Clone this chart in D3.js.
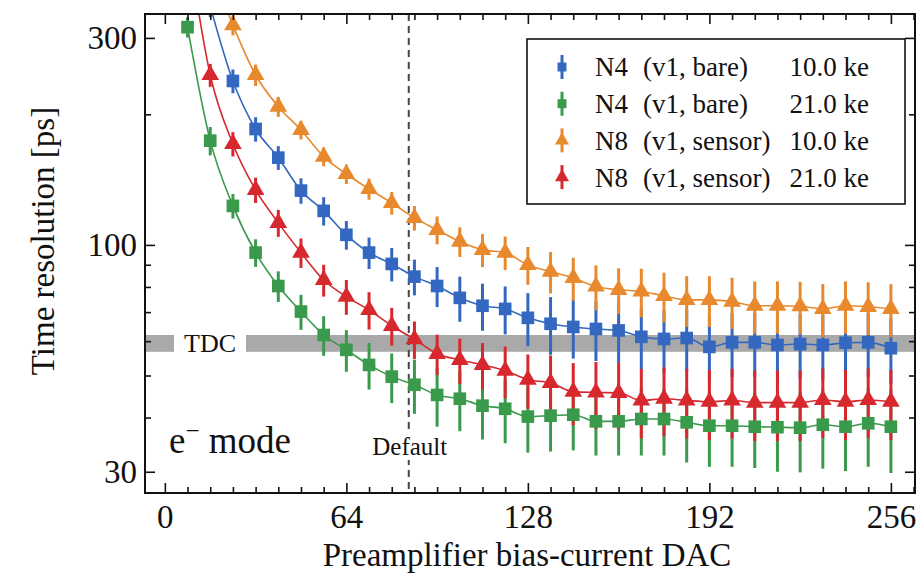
<!DOCTYPE html>
<html>
<head>
<meta charset="utf-8">
<script src="https://cdn.jsdelivr.net/npm/d3@7/dist/d3.min.js"></script>
<style>
  body { margin: 0; background: #fff; }
  text { font-family: "Liberation Serif", "DejaVu Serif", serif; fill: #111; }
</style>
</head>
<body>
<div id="chart"></div>
<script>
// bias-current DAC settings (one point every 8 DAC)
const dacValues = [8, 16, 24, 32, 40, 48, 56, 64, 72, 80, 88, 96, 104, 112, 120, 128,
  136, 144, 152, 160, 168, 176, 184, 192, 200, 208, 216, 224, 232, 240, 248, 256]

// time resolution [ps], null = not measured
const n4Bare10 = [null, 355, 238.7, 185.0, 158.9, 133.4, 119.8, 105.5, 96.0, 90.4, 84.5, 80.4, 75.5, 72.4, 71.2, 67.9,
  65.8, 64.7, 64.0, 63.5, 61.4, 60.7, 61.0, 58.2, 59.6, 59.6, 58.8, 59.1, 58.8, 59.5, 59.6, 57.8]
const n4Bare21 = [317.6, 173.9, 123.0, 96.0, 80.4, 70.2, 62.0, 57.3, 52.9, 49.7, 47.6, 45.1, 44.2, 42.6, 41.9, 40.2,
  40.4, 40.6, 39.2, 39.2, 39.7, 39.7, 39.0, 38.3, 38.3, 38.1, 38.0, 37.9, 38.5, 38.1, 38.8, 38.1]
const n8Sensor10 = [null, 440, 321, 246.4, 208.3, 184.1, 159.8, 145.7, 134.6, 124.9, 115.4, 108.3, 101.8, 97.4, 96.0, 89.9,
  86.8, 83.9, 80.2, 78.8, 78.1, 76.3, 74.7, 74.7, 74.0, 72.4, 72.4, 72.2, 71.2, 72.4, 72.0, 71.2]
const n8Sensor21 = [500, 246.4, 170.9, 133.9, 112.4, 96.0, 83.0, 76.0, 70.8, 65.1, 60.6, 56.1, 54.3, 52.9, 51.3, 48.9,
  48.1, 45.9, 45.7, 45.6, 43.8, 44.2, 43.8, 43.5, 43.8, 43.3, 43.3, 43.3, 43.9, 43.5, 43.9, 43.5]

// uncertainties [ps]
const n4Bare10Err = [0, 20, 15, 12, 10, 9, 9, 8, 8, 8, 8, 8.5, 9, 9, 9, 9.5,
  10, 10, 10, 10, 10, 10, 10, 10, 10, 10, 10, 10, 10, 10, 10, 10]
const n4Bare21Err = [17, 13, 8, 7, 6.5, 6.5, 6.5, 6.3, 6.5, 6.5, 6.8, 7, 7, 7, 7, 7,
  7, 7, 6.5, 6.5, 7, 7, 7.5, 7.5, 7.5, 7.5, 8, 8, 8, 8, 8, 8.3]
const n8Sensor10Err = [0, 25, 17, 14, 11, 9, 8, 7.5, 7.5, 7.5, 7.5, 8, 8, 8.5, 8.5, 9,
  9.5, 9.5, 9.5, 9.5, 10, 10, 10, 10, 10, 10, 10, 10, 10, 10, 10, 10]
const n8Sensor21Err = [30, 15, 11, 9, 8, 7.5, 7, 7, 7, 6.5, 6, 6, 6.5, 6.5, 7, 7,
  7.5, 7.5, 8, 8, 8, 8, 8, 8, 8, 8, 8, 8, 8, 8, 8, 8]

const seriesNames = ['N4', 'N4', 'N8', 'N8']
const seriesConfigs = ['(v1, bare)', '(v1, bare)', '(v1, sensor)', '(v1, sensor)']
const seriesCharges = ['10.0 ke', '21.0 ke', '10.0 ke', '21.0 ke']
const seriesColors = ['#3468c0', '#3a9a4c', '#e8892e', '#d7282e']
const seriesShapes = ['square', 'square', 'triangle', 'triangle']
const seriesValues = [n4Bare10, n4Bare21, n8Sensor10, n8Sensor21]
const seriesErrors = [n4Bare10Err, n4Bare21Err, n8Sensor10Err, n8Sensor21Err]

const xMajorTicks = [0, 64, 128, 192, 256]
const yMajorTicks = [30, 100, 300]
const yMinorTicks = [40, 50, 60, 70, 80, 90, 200]
const tdcLow = 56.7
const tdcHigh = 62.0
const defaultDac = 86

const width = 923
const height = 579
const plotLeft = 145
const plotRight = 915
const plotTop = 14
const plotBottom = 493

const svg = d3.select('#chart')
  .append('svg')
  .attr('width', width)
  .attr('height', height)

const x = d3.scaleLinear().domain([-7, 264.5]).range([plotLeft, plotRight])
const y = d3.scaleLog().domain([26.8, 340.6]).range([plotBottom, plotTop])

svg.append('clipPath')
  .attr('id', 'plotClip')
  .append('rect')
  .attr('x', plotLeft)
  .attr('y', plotTop)
  .attr('width', plotRight - plotLeft)
  .attr('height', plotBottom - plotTop)

// TDC band
svg.append('rect')
  .attr('x', plotLeft)
  .attr('width', plotRight - plotLeft)
  .attr('y', y(tdcHigh))
  .attr('height', y(tdcLow) - y(tdcHigh))
  .attr('fill', '#a9a9a9')

const tdcText = svg.append('text')
  .attr('x', 210)
  .attr('y', (y(tdcHigh) + y(tdcLow)) / 2)
  .attr('dy', '0.35em')
  .attr('text-anchor', 'middle')
  .attr('font-size', 26)
  .text('TDC')
const tdcBox = tdcText.node().getBBox()
svg.insert('rect', 'text')
  .attr('x', tdcBox.x - 10)
  .attr('width', tdcBox.width + 20)
  .attr('y', y(tdcHigh) - 1)
  .attr('height', y(tdcLow) - y(tdcHigh) + 2)
  .attr('fill', '#fff')

// default setting
svg.append('line')
  .attr('x1', x(defaultDac))
  .attr('x2', x(defaultDac))
  .attr('y1', plotTop)
  .attr('y2', plotBottom)
  .attr('stroke', '#444')
  .attr('stroke-width', 2)
  .attr('stroke-dasharray', '7,5')

const defaultText = svg.append('text')
  .attr('x', x(defaultDac) + 1)
  .attr('y', 455)
  .attr('text-anchor', 'middle')
  .attr('font-size', 25)
  .text('Default')
const defaultBox = defaultText.node().getBBox()
svg.insert('rect', 'text:last-of-type')
  .attr('x', defaultBox.x)
  .attr('y', defaultBox.y)
  .attr('width', defaultBox.width)
  .attr('height', defaultBox.height)
  .attr('fill', '#fff')
defaultText.raise()

const modeText = svg.append('text')
  .attr('x', 169)
  .attr('y', 453)
  .attr('font-size', 37)
modeText.append('tspan').text('e')
modeText.append('tspan').attr('dy', -14).attr('font-size', 25).text('\u2212')
modeText.append('tspan').attr('dy', 14).text(' mode')

const plot = svg.append('g').attr('clip-path', 'url(#plotClip)')

function seriesPoints(i) {
  return dacValues
    .map(function(d, j) {
      return { dac: d, value: seriesValues[i][j], err: seriesErrors[i][j] }
    })
    .filter(function(p) { return p.value !== null })
}

function symbolFor(shape, big) {
  if (shape === 'square') {
    return d3.symbol().type(d3.symbolSquare).size(big ? 160 : 80)
  }
  return d3.symbol().type(d3.symbolTriangle).size(big ? 135 : 85)
}

// error bars first
seriesValues.forEach(function(v, i) {
  plot.append('g')
    .selectAll('line')
    .data(seriesPoints(i))
    .enter()
    .append('line')
    .attr('x1', function(p) { return x(p.dac) })
    .attr('x2', function(p) { return x(p.dac) })
    .attr('y1', function(p) { return y(p.value + p.err) })
    .attr('y2', function(p) { return y(Math.max(p.value - p.err, 1)) })
    .attr('stroke', seriesColors[i])
    .attr('stroke-width', 3)
})

const line = d3.line()
  .x(function(p) { return x(p.dac) })
  .y(function(p) { return y(p.value) })
  .curve(d3.curveMonotoneX)

seriesValues.forEach(function(v, i) {
  plot.append('path')
    .datum(seriesPoints(i))
    .attr('d', line)
    .attr('fill', 'none')
    .attr('stroke', seriesColors[i])
    .attr('stroke-width', 1.6)
})

seriesValues.forEach(function(v, i) {
  plot.append('g')
    .selectAll('path')
    .data(seriesPoints(i))
    .enter()
    .append('path')
    .attr('transform', function(p) { return 'translate(' + x(p.dac) + ',' + y(p.value) + ')' })
    .attr('d', symbolFor(seriesShapes[i], true))
    .attr('fill', seriesColors[i])
})

// axes with inward ticks on all four sides
const xMinorTicks = d3.range(0, 265, 8).filter(function(d) { return xMajorTicks.indexOf(d) < 0 })

function styleAxis(g) {
  g.select('.domain').remove()
  g.selectAll('.tick line').attr('stroke', '#111').attr('stroke-width', 1.6)
  g.selectAll('.tick text')
    .attr('font-family', '"Liberation Serif", "DejaVu Serif", serif')
    .attr('font-size', 33)
    .attr('fill', '#111')
}

svg.append('g')
  .attr('transform', 'translate(0,' + plotBottom + ')')
  .call(d3.axisBottom(x).tickValues(xMajorTicks).tickSize(-10).tickPadding(12).tickFormat(d3.format('d')))
  .call(styleAxis)
svg.append('g')
  .attr('transform', 'translate(0,' + plotBottom + ')')
  .call(d3.axisBottom(x).tickValues(xMinorTicks).tickSize(-6).tickFormat(''))
  .call(styleAxis)
svg.append('g')
  .attr('transform', 'translate(0,' + plotTop + ')')
  .call(d3.axisTop(x).tickValues(xMajorTicks).tickSize(-10).tickFormat(''))
  .call(styleAxis)
svg.append('g')
  .attr('transform', 'translate(0,' + plotTop + ')')
  .call(d3.axisTop(x).tickValues(xMinorTicks).tickSize(-6).tickFormat(''))
  .call(styleAxis)

svg.append('g')
  .attr('transform', 'translate(' + plotLeft + ',0)')
  .call(d3.axisLeft(y).tickValues(yMajorTicks).tickSize(-10).tickPadding(8).tickFormat(d3.format('d')))
  .call(styleAxis)
svg.append('g')
  .attr('transform', 'translate(' + plotLeft + ',0)')
  .call(d3.axisLeft(y).tickValues(yMinorTicks).tickSize(-6).tickFormat(''))
  .call(styleAxis)
svg.append('g')
  .attr('transform', 'translate(' + plotRight + ',0)')
  .call(d3.axisRight(y).tickValues(yMajorTicks).tickSize(-10).tickFormat(''))
  .call(styleAxis)
svg.append('g')
  .attr('transform', 'translate(' + plotRight + ',0)')
  .call(d3.axisRight(y).tickValues(yMinorTicks).tickSize(-6).tickFormat(''))
  .call(styleAxis)

svg.append('rect')
  .attr('x', plotLeft)
  .attr('y', plotTop)
  .attr('width', plotRight - plotLeft)
  .attr('height', plotBottom - plotTop)
  .attr('fill', 'none')
  .attr('stroke', '#111')
  .attr('stroke-width', 2)

svg.append('text')
  .attr('x', (plotLeft + plotRight) / 2 - 3)
  .attr('y', 566)
  .attr('text-anchor', 'middle')
  .attr('font-size', 33)
  .text('Preamplifier bias-current DAC')

svg.append('text')
  .attr('transform', 'translate(54,241) rotate(-90)')
  .attr('text-anchor', 'middle')
  .attr('font-size', 33)
  .text('Time resolution [ps]')

// legend
const legendLeft = 527
const legendTop = 39
const legendRowHeight = 36.7
const legend = svg.append('g')
legend.append('rect')
  .attr('x', legendLeft)
  .attr('y', legendTop)
  .attr('width', 378)
  .attr('height', 165)
  .attr('fill', '#fff')
  .attr('stroke', '#111')
  .attr('stroke-width', 1.6)

seriesNames.forEach(function(name, i) {
  const cy = legendTop + 28 + i * legendRowHeight
  const row = legend.append('g')
  row.append('line')
    .attr('x1', 562).attr('x2', 562)
    .attr('y1', cy - 12).attr('y2', cy + 12)
    .attr('stroke', seriesColors[i])
    .attr('stroke-width', 3)
  row.append('path')
    .attr('transform', 'translate(562,' + cy + ')')
    .attr('d', symbolFor(seriesShapes[i], false))
    .attr('fill', seriesColors[i])
  row.append('text').attr('x', 595).attr('y', cy).attr('dy', '0.35em').attr('font-size', 27).text(name)
  row.append('text').attr('x', 643).attr('y', cy).attr('dy', '0.35em').attr('font-size', 27).text(seriesConfigs[i])
  row.append('text').attr('x', 869).attr('y', cy).attr('dy', '0.35em').attr('text-anchor', 'end').attr('font-size', 27).text(seriesCharges[i])
})
</script>
</body>
</html>
